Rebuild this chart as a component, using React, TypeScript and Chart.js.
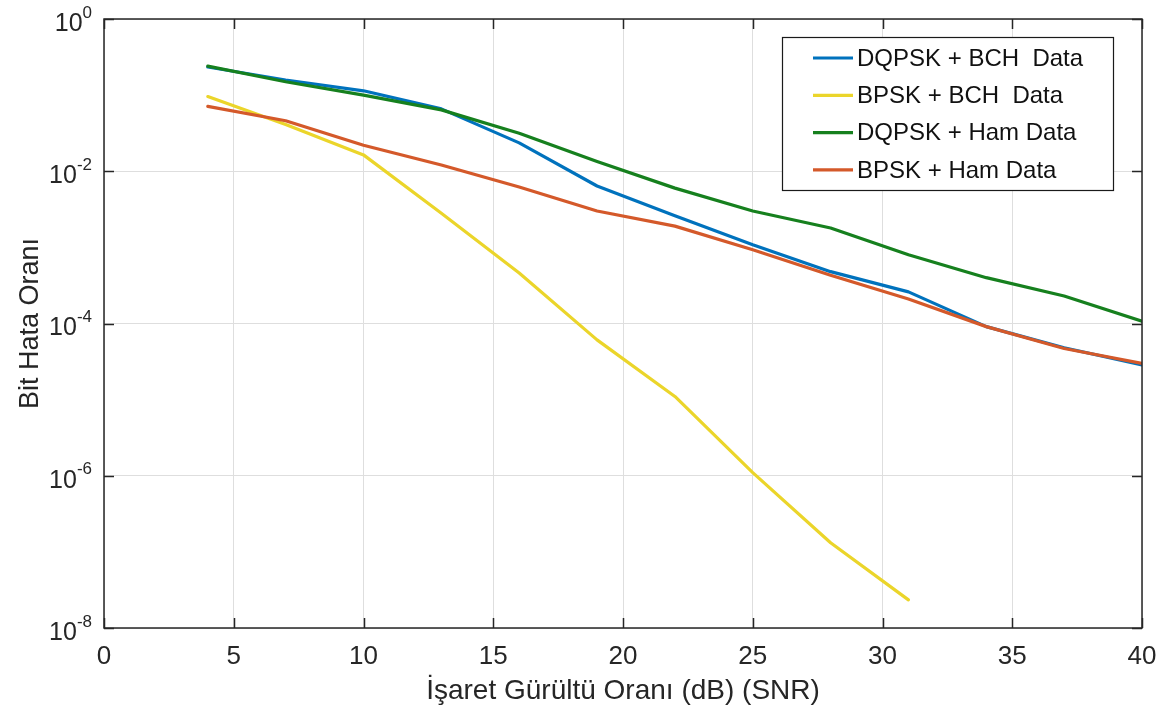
import React, { useEffect, useRef } from "react";
import { Chart, registerables } from "chart.js";

Chart.register(...registerables);

// SNR points (dB) at which the bit error rate was measured
const snrDb = [4, 7, 10, 13, 16, 19, 22, 25, 28, 31, 34, 37, 40];

// Bit error rate for each modulation / coding pair
const dqpskBch = [0.234, 0.158, 0.114, 0.066, 0.0236, 0.0064, 0.0026, 0.00108, 0.00048, 0.00026, 9.1e-5, 4.8e-5, 2.85e-5];
const bpskBch = [0.0956, 0.041, 0.0164, 0.0028, 0.00046, 6.1e-5, 1.1e-5, 1.1e-6, 1.32e-7, 2.34e-8];
const dqpskHam = [0.24, 0.15, 0.1, 0.064, 0.0316, 0.0134, 0.006, 0.003, 0.0018, 0.0008, 0.0004, 0.00023, 1.07e-4];
const bpskHam = [0.071, 0.046, 0.022, 0.0121, 0.0062, 0.003, 0.0019, 0.00093, 0.00043, 0.00021, 9.1e-5, 4.7e-5, 3.0e-5];

const seriesLabels = ["DQPSK + BCH  Data", "BPSK + BCH  Data", "DQPSK + Ham Data", "BPSK + Ham Data"];
const seriesColors = ["#0072BD", "#EBD52A", "#16801E", "#D4592A"];

// Axis ticks
const xTickValues = [0, 5, 10, 15, 20, 25, 30, 35, 40];
const yTickExponents = [0, -2, -4, -6, -8];

const xTitle = "İşaret Gürültü Oranı (dB) (SNR)";
const yTitle = "Bit Hata Oranı";

const FONT = "'Liberation Sans', Arial, Helvetica, sans-serif";
const INK = "#262626";

const toPoints = (ys: number[]) => ys.map((y, i) => ({ x: snrDb[i], y }));

// Box, inward tick marks, power-of-ten labels and legend
const framePlugin = {
  id: "frame",
  afterDraw(chart: any) {
    const { ctx, chartArea: a, scales } = chart;
    const xs = scales.x;
    const ys = scales.y;
    ctx.save();

    // axes box
    ctx.strokeStyle = INK;
    ctx.lineWidth = 1.5;
    ctx.strokeRect(a.left, a.top, a.right - a.left, a.bottom - a.top);

    // tick marks pointing into the plot on all four sides
    const tl = 10;
    ctx.lineWidth = 1.5;
    ctx.beginPath();
    xTickValues.forEach((v) => {
      const px = Math.round(xs.getPixelForValue(v)) + 0.5;
      ctx.moveTo(px, a.bottom);
      ctx.lineTo(px, a.bottom - tl);
      ctx.moveTo(px, a.top);
      ctx.lineTo(px, a.top + tl);
    });
    yTickExponents.forEach((e) => {
      const py = Math.round(ys.getPixelForValue(Math.pow(10, e))) + 0.5;
      ctx.moveTo(a.left, py);
      ctx.lineTo(a.left + tl, py);
      ctx.moveTo(a.right, py);
      ctx.lineTo(a.right - tl, py);
    });
    ctx.stroke();

    // y tick labels: 10 with a raised exponent
    ctx.fillStyle = INK;
    ctx.textBaseline = "middle";
    const labelRight = a.left - 12;
    yTickExponents.forEach((e) => {
      const py = ys.getPixelForValue(Math.pow(10, e));
      const expText = e === 0 ? "0" : "-" + String(-e);
      ctx.font = `17px ${FONT}`;
      const ew = ctx.measureText(expText).width;
      ctx.textAlign = "right";
      ctx.fillText(expText, labelRight, py - 6);
      ctx.font = `25px ${FONT}`;
      ctx.fillText("10", labelRight - ew, py + 5);
    });

    // legend
    const lx = 782;
    const ly = 37;
    const lw = 331;
    const lh = 153;
    ctx.fillStyle = "#ffffff";
    ctx.fillRect(lx, ly, lw, lh);
    ctx.strokeStyle = "#1a1a1a";
    ctx.lineWidth = 1.2;
    ctx.strokeRect(lx + 0.5, ly + 0.5, lw, lh);
    ctx.font = `24px ${FONT}`;
    ctx.textAlign = "left";
    ctx.textBaseline = "middle";
    seriesLabels.forEach((label, i) => {
      const ry = 58 + i * 37.3;
      ctx.strokeStyle = seriesColors[i];
      ctx.lineWidth = 3.2;
      ctx.beginPath();
      ctx.moveTo(813, ry);
      ctx.lineTo(853, ry);
      ctx.stroke();
      ctx.fillStyle = "#111111";
      ctx.fillText(label, 857, ry + 1);
    });

    ctx.restore();
  },
};

export default function App() {
  const canvasRef = useRef<HTMLCanvasElement | null>(null);

  useEffect(() => {
    if (!canvasRef.current) return;
    const seriesData = [dqpskBch, bpskBch, dqpskHam, bpskHam];
    const drawOrder = [4, 3, 2, 1];
    const chart = new Chart(canvasRef.current, {
      type: "line",
      data: {
        datasets: seriesData.map((ys, i) => ({
          label: seriesLabels[i],
          data: toPoints(ys),
          borderColor: seriesColors[i],
          backgroundColor: seriesColors[i],
          borderWidth: 3.2,
          pointRadius: 0,
          tension: 0,
          fill: false,
          order: drawOrder[i],
          borderJoinStyle: "round" as const,
          borderCapStyle: "round" as const,
        })),
      },
      options: {
        responsive: false,
        animation: false,
        events: [],
        layout: { padding: { top: 19, right: 31, left: 0, bottom: 0 } },
        plugins: {
          legend: { display: false },
          tooltip: { enabled: false },
          title: { display: false },
        },
        scales: {
          x: {
            type: "linear",
            min: 0,
            max: 40,
            afterBuildTicks: (scale: any) => {
              scale.ticks = xTickValues.map((v) => ({ value: v }));
            },
            afterFit: (scale: any) => {
              scale.height = 90;
            },
            grid: { color: "#dedede", lineWidth: 1, drawTicks: false },
            border: { display: false },
            ticks: {
              color: INK,
              font: { family: FONT, size: 26 },
              padding: 13,
              maxRotation: 0,
              autoSkip: false,
            },
            title: {
              display: true,
              text: xTitle,
              color: INK,
              font: { family: FONT, size: 28 },
              padding: { top: 0, bottom: 10 },
            },
          },
          y: {
            type: "logarithmic",
            min: 1e-8,
            max: 1,
            afterBuildTicks: (scale: any) => {
              scale.ticks = yTickExponents.map((e) => ({ value: Math.pow(10, e) }));
            },
            afterFit: (scale: any) => {
              scale.width = 104;
            },
            grid: { color: "#dedede", lineWidth: 1, drawTicks: false },
            border: { display: false },
            ticks: { display: false },
            title: {
              display: true,
              text: yTitle,
              color: INK,
              font: { family: FONT, size: 27 },
              padding: { top: 14, bottom: 0 },
            },
          },
        },
      },
      plugins: [framePlugin],
    });
    return () => chart.destroy();
  }, []);

  return (
    <div style={{ position: "fixed", left: 0, top: 0, width: 1173, height: 718, background: "#ffffff" }}>
      <canvas ref={canvasRef} width={1173} height={718} />
    </div>
  );
}
